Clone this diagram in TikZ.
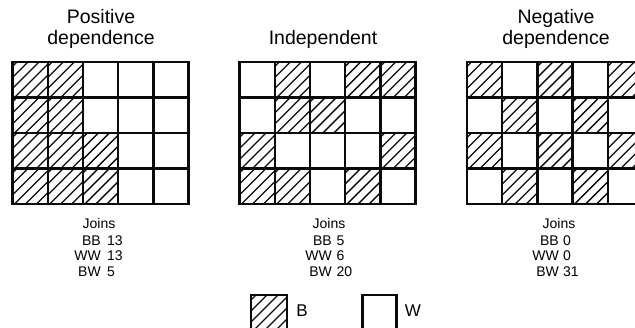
\documentclass[tikz,border=0pt]{standalone}
\usepackage{fontspec}
\setmainfont{Liberation Sans}
\usetikzlibrary{positioning}
\definecolor{jcInk}{RGB}{10,10,10}

\def\cw{35.2}
\def\ch{35.5}
\newcommand{\hatchcell}[4]{% x, y, width, height
  \begin{scope}
    \clip (#1,#2) rectangle ++(#3,#4);
    \foreach \k in {0,...,6}
      \draw[hatch] ({#1-31+\k*11},{#2+#4}) -- ++(45,-45);
  \end{scope}}

\begin{document}
\begin{tikzpicture}[
  x=1pt, y=-1pt,
  gridline/.style={draw=jcInk, line width=2.4pt, line cap=rect},
  hatch/.style={draw=jcInk, line width=1.3pt},
  title/.style={font=\fontsize{19.5}{21}\selectfont, align=center, inner sep=0pt},
  joins/.style={font=\fontsize{14}{15.5}\selectfont, inner sep=0pt},
  legtext/.style={font=\fontsize{17}{18}\selectfont, inner sep=0pt}
]
\useasboundingbox (0,0) rectangle (635,328);
\clip (0,0) rectangle (635,328);

% black cells, then the grids
\foreach \gx/\cells in {
    12.5/{0/0,1/0,0/1,1/1,0/2,1/2,2/2,0/3,1/3,2/3},
    239.5/{1/0,3/0,4/0,1/1,2/1,0/2,4/2,0/3,1/3,3/3},
    467/{0/0,2/0,4/0,1/1,3/1,0/2,2/2,4/2,1/3,3/3}} {
  \foreach \c/\r in \cells
    \hatchcell{\gx+\c*\cw}{62+\r*\ch}{\cw}{\ch};
  \foreach \i in {0,...,5}
    \draw[gridline] ({\gx+\i*\cw},62) -- ++(0,{4*\ch});
  \foreach \j in {0,...,4}
    \draw[gridline] (\gx,{62+\j*\ch}) -- ++({5*\cw},0);
}

\node[title] (titlePos) at (101,28.5) {Positive\\dependence};
\node[title] (titleInd) at (323,39)   {Independent};
\node[title] (titleNeg) at (556,28.5) {Negative\\dependence};

\node[joins] (joinsPos) at (99,223)  {Joins};
\node[joins, anchor=east, align=right] (pairPos) at (101,256)   {BB\\WW\\BW};
\node[joins, anchor=west, align=left]  (numPos)  at (107,256)   {13\\13\\5};
\node[joins] (joinsInd) at (329,223) {Joins};
\node[joins, anchor=east, align=right] (pairInd) at (332,256)   {BB\\WW\\BW};
\node[joins, anchor=west, align=left]  (numInd)  at (336.5,256) {5\\6\\20};
\node[joins] (joinsNeg) at (559,223) {Joins};
\node[joins, anchor=east, align=right] (pairNeg) at (559,256)   {BB\\WW\\BW};
\node[joins, anchor=west, align=left]  (numNeg)  at (563,256)   {0\\0\\31};

% key
\hatchcell{251}{295}{36}{36}
\draw[gridline] (251,295) rectangle ++(36,36);
\node[legtext] (keyB) at (302,311) {B};
\draw[gridline] (362.5,295) rectangle ++(34,36);
\node[legtext] (keyW) at (413,311) {W};
\end{tikzpicture}
\end{document}
